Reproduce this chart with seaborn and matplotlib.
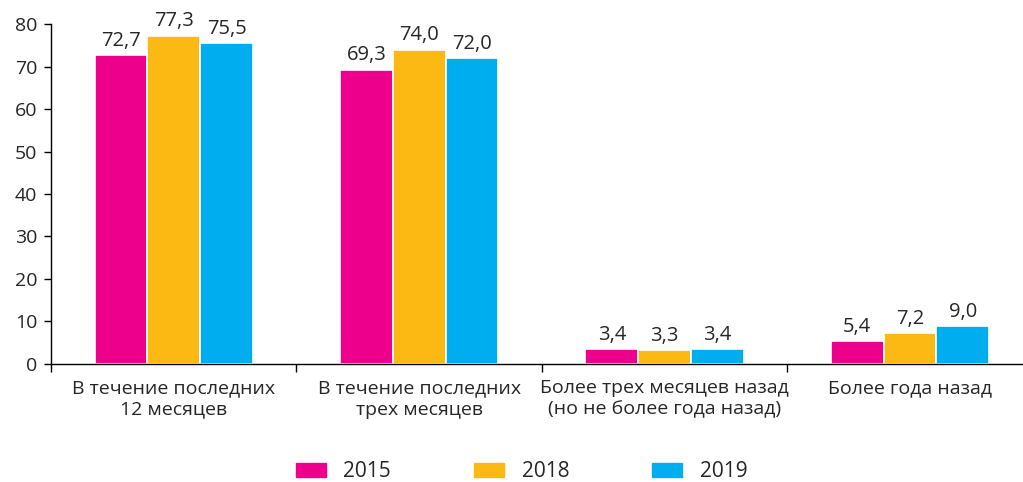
import pandas as pd
import matplotlib.pyplot as plt
import seaborn as sns

categories = ["В течение последних\n12 месяцев",
              "В течение последних\nтрех месяцев",
              "Более трех месяцев назад\n(но не более года назад)",
              "Более года назад"]
years = ["2015", "2018", "2019"]
v2015 = [72.7, 69.3, 3.4, 5.4]
v2018 = [77.3, 74.0, 3.3, 7.2]
v2019 = [75.5, 72.0, 3.4, 9.0]
colors = ["#EC008C", "#FDB913", "#00AEEF"]

rows = []
for y, vals in zip(years, [v2015, v2018, v2019]):
    for c, v in zip(categories, vals):
        rows.append({"cat": c, "year": y, "val": v})
df = pd.DataFrame(rows)

sns.set_style("white")
plt.rcParams["font.family"] = ["Open Sans", "DejaVu Sans"]

fig = plt.figure(figsize=(10.23, 4.82), dpi=100)
ax = fig.add_axes([0.0499, 0.245, 0.9501, 0.705])

sns.barplot(data=df, x="cat", y="val", hue="year", palette=colors, saturation=1,
            width=0.645, edgecolor="white", linewidth=1.2, ax=ax, legend=False)

for cont in ax.containers:
    ax.bar_label(cont, labels=[f"{b.get_height():.1f}".replace(".", ",") for b in cont],
                 padding=3, fontsize=14.5)

ax.set_ylim(0, 80)
ax.set_xlim(-0.5, 3.46)
ax.set_yticks(range(0, 81, 10))
ax.set_xlabel("")
ax.set_ylabel("")
ax.tick_params(axis="y", labelsize=14, length=5, width=1, color="black", direction="out",
               left=True, pad=5)
ax.tick_params(axis="x", which="major", labelsize=14, length=0, pad=11)
ax.set_xticks([-0.5, 0.5, 1.5, 2.5], minor=True)
ax.tick_params(axis="x", which="minor", length=6, width=1, color="black", direction="out", bottom=True)
for s in ["top", "right"]:
    ax.spines[s].set_visible(False)
for s in ["left", "bottom"]:
    ax.spines[s].set_color("black")
    ax.spines[s].set_linewidth(1)
for t in ax.get_xticklabels():
    t.set_linespacing(1.25)

handles = [plt.Rectangle((0, 0), 1, 1, color=c) for c in colors]
fig.legend(handles, years, loc="center", bbox_to_anchor=(0.51, 0.021), ncol=3,
           frameon=False, fontsize=15, handlelength=1.44, handleheight=0.63,
           columnspacing=4.0, handletextpad=0.82, borderpad=0)

fig.savefig("out.png", dpi=100)
